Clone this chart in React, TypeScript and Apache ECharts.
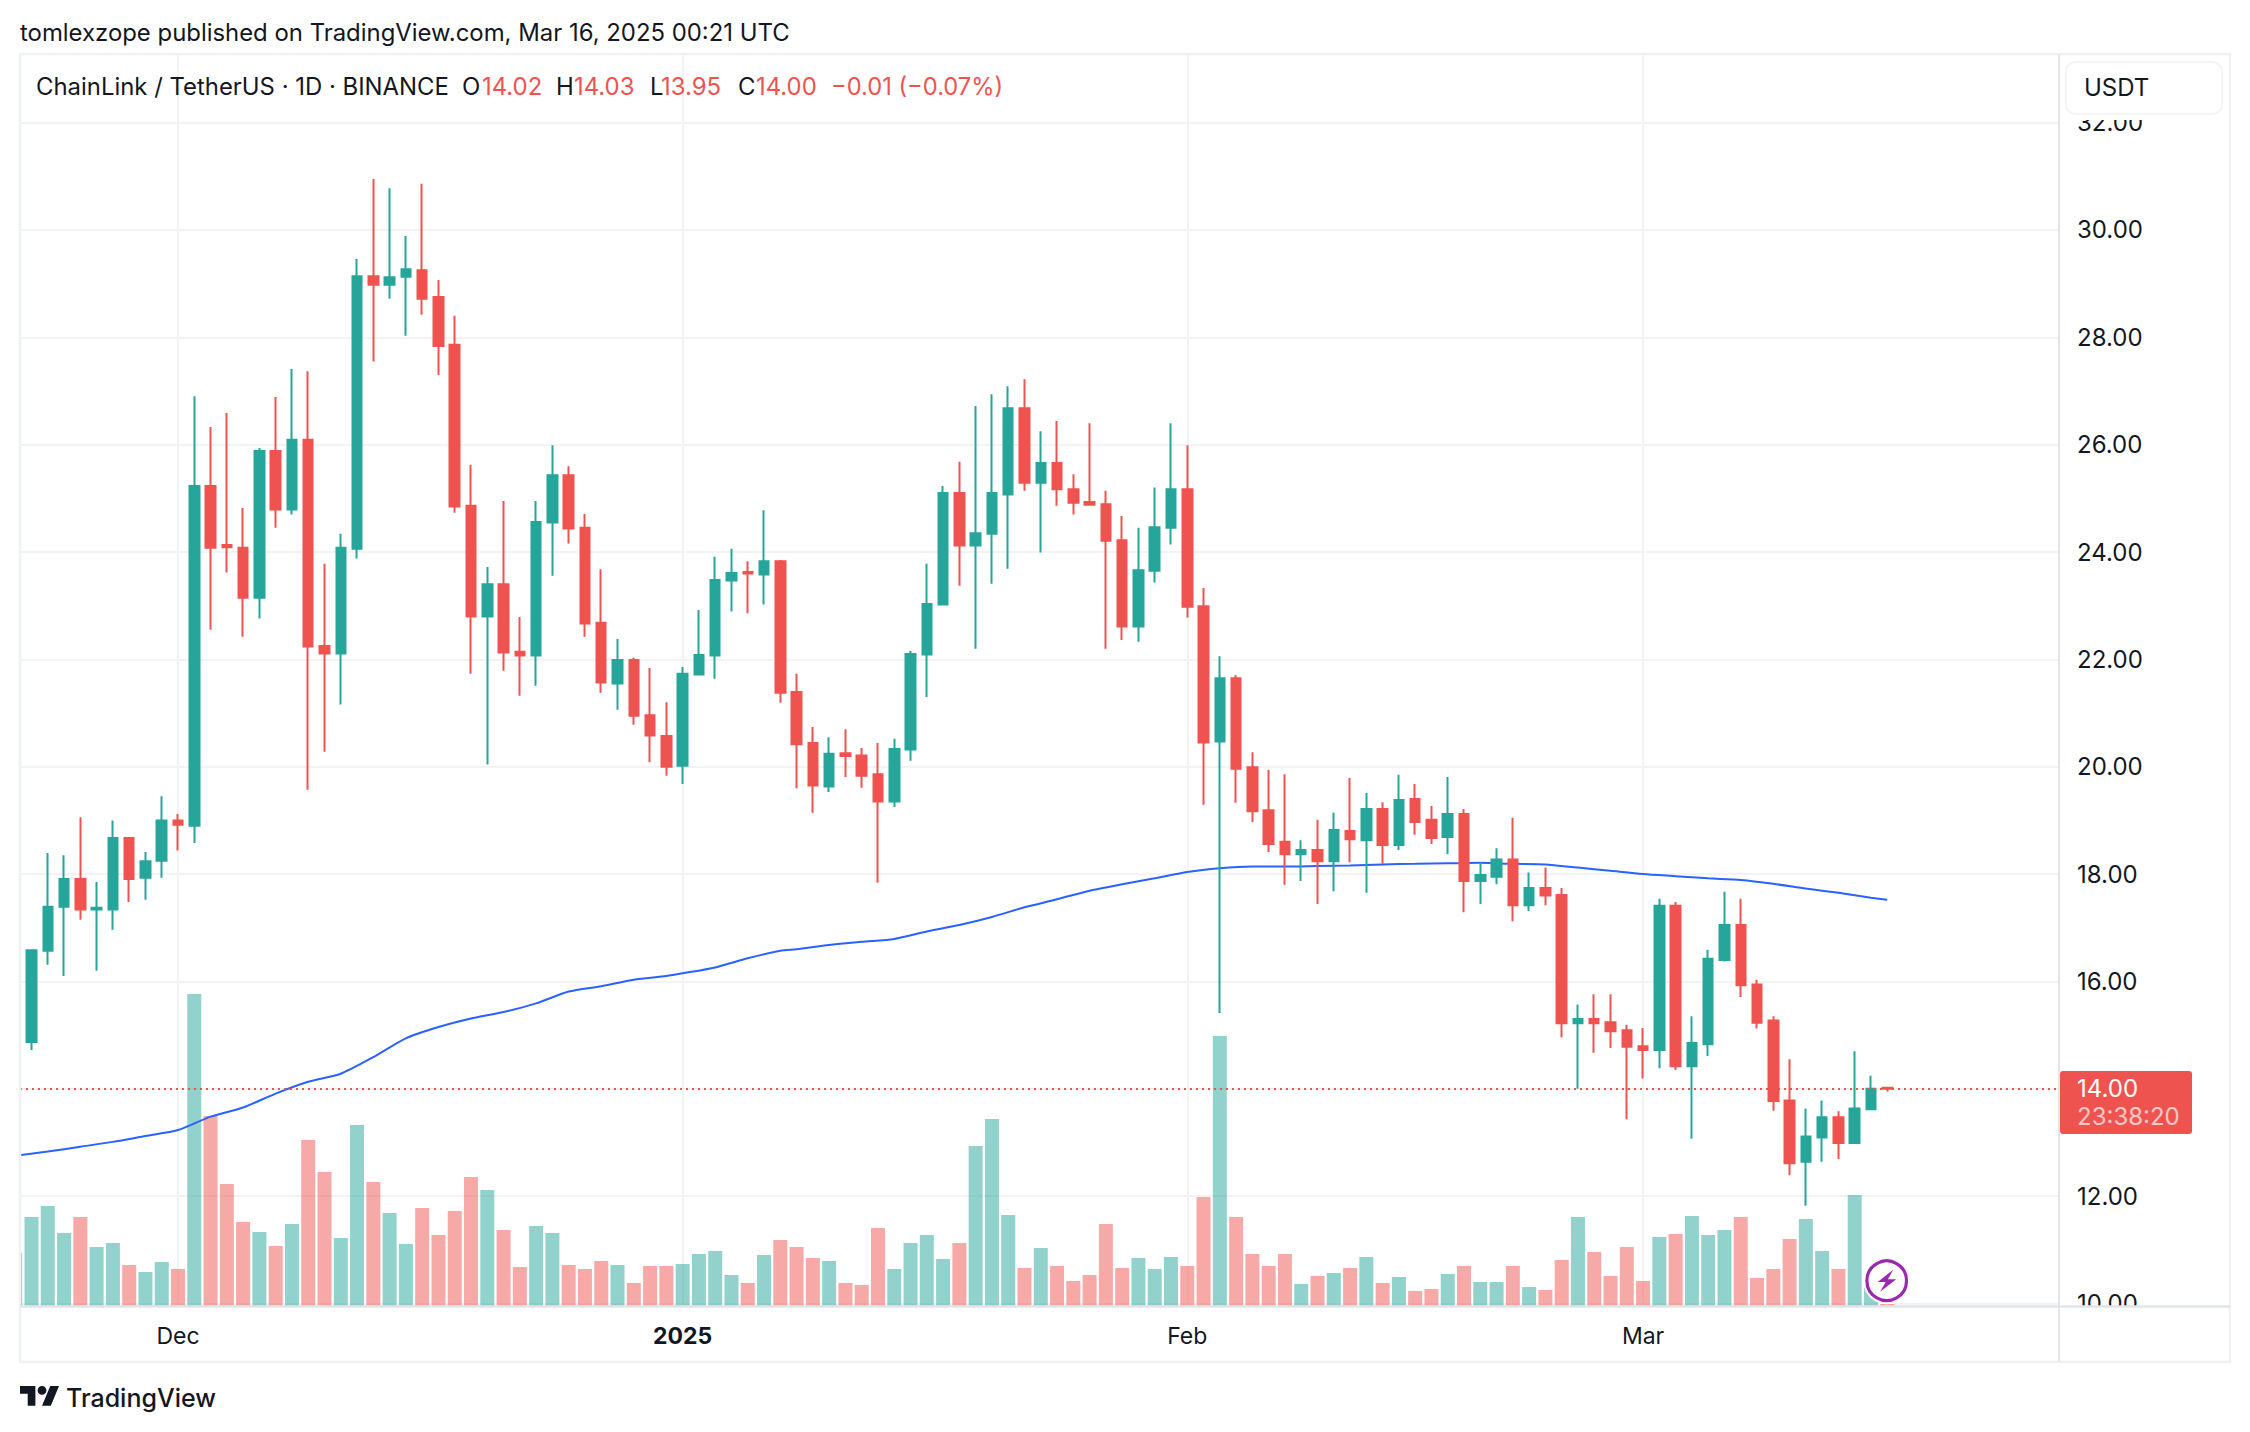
import React, { useEffect, useRef } from "react";
import * as echarts from "echarts";

const opens = [14.22,14.87,16.57,17.39,17.91,17.34,17.34,18.67,17.93,18.25,19.00,18.90,25.23,24.13,24.08,23.15,25.88,24.79,26.09,22.25,22.11,24.06,29.14,28.98,29.13,29.25,28.75,27.86,24.86,22.80,23.40,22.14,22.07,24.55,25.43,24.45,22.68,21.55,21.99,20.96,20.57,20.02,21.72,22.07,23.47,23.63,23.58,23.83,21.39,20.44,19.63,20.25,20.21,19.86,19.35,20.32,22.09,23.02,25.10,24.12,24.34,25.07,26.68,25.29,25.66,25.17,24.93,24.89,24.22,22.61,23.65,24.45,25.17,22.99,20.47,21.65,19.99,19.19,18.60,18.37,18.45,18.24,18.80,18.63,19.21,18.54,19.40,19.01,18.69,19.12,17.87,17.95,18.27,17.42,17.74,17.61,15.22,15.30,15.24,15.09,14.79,14.72,17.41,14.42,14.83,16.40,17.05,15.94,15.27,13.78,12.64,13.09,13.47,12.99,13.62,14.02];
const closes = [14.89,16.58,17.39,17.91,17.34,17.37,18.67,17.91,18.24,19.00,18.92,25.23,24.08,24.09,23.15,25.88,24.79,26.09,22.24,22.11,24.08,29.14,28.98,29.12,29.27,28.72,27.84,24.85,22.80,23.40,22.13,22.07,24.56,25.43,24.44,22.67,21.57,21.99,20.95,20.58,20.00,21.73,22.08,23.48,23.61,23.60,23.83,21.38,20.42,19.65,20.24,20.20,19.83,19.35,20.33,22.10,23.03,25.10,24.12,24.35,25.10,26.68,25.29,25.66,25.17,24.92,24.88,24.21,22.61,23.66,24.46,25.17,22.98,20.45,21.65,19.96,19.17,18.56,18.37,18.45,18.24,18.82,18.65,19.21,18.54,19.38,18.97,18.67,19.12,17.87,17.98,18.27,17.42,17.74,17.60,15.22,15.30,15.22,15.07,14.78,14.72,17.41,14.42,14.85,16.42,17.05,15.93,15.23,13.77,12.61,13.11,13.47,12.99,13.63,14.00,14.00];
const lows = [14.10,14.72,16.31,16.10,17.15,16.20,16.96,17.48,17.52,17.93,18.44,18.58,22.55,23.62,22.42,22.76,24.45,24.70,19.57,20.28,21.16,23.88,27.55,28.72,28.03,28.42,27.30,24.73,21.73,20.04,21.79,21.32,21.51,23.56,24.16,22.42,21.38,21.06,20.78,20.09,19.83,19.68,21.72,21.64,22.89,22.86,23.02,21.19,19.60,19.14,19.53,19.81,19.61,17.84,19.25,20.11,21.30,23.02,23.37,22.20,23.41,23.69,25.14,23.99,24.86,24.70,24.86,22.20,22.36,22.33,23.43,24.14,22.78,19.29,15.41,19.33,18.97,18.41,17.80,17.87,17.44,17.68,18.22,17.65,18.19,18.45,18.73,18.56,18.37,17.29,17.44,17.81,17.12,17.31,17.42,14.96,14.00,14.67,14.76,13.43,14.19,14.38,14.35,13.07,14.61,16.37,15.71,15.12,13.59,12.39,11.82,12.64,12.69,12.97,13.62,13.95];
const highs = [15.00,16.60,18.39,18.35,19.06,17.85,19.00,18.69,18.41,19.45,19.12,26.90,26.33,26.59,24.82,25.94,26.89,27.41,27.37,23.78,24.34,29.46,30.95,30.78,29.89,30.86,29.07,28.40,25.62,23.72,24.95,22.79,24.95,25.99,25.60,24.71,23.68,22.38,22.03,21.84,21.20,21.86,22.92,23.91,24.06,23.83,24.78,23.85,21.73,20.74,20.55,20.70,20.35,20.44,20.52,22.16,23.78,25.23,25.68,26.72,26.94,27.09,27.22,26.25,26.44,25.45,26.40,25.14,24.67,24.45,25.20,26.40,25.99,23.33,22.06,21.71,20.27,19.94,19.86,18.63,19.01,19.14,19.79,19.51,19.34,19.85,19.68,19.27,19.81,19.21,18.22,18.48,19.05,18.03,18.12,17.74,15.57,15.76,15.76,15.19,15.13,17.54,17.48,15.35,16.59,17.67,17.54,16.03,15.35,14.55,13.63,13.78,13.58,14.70,14.24,14.03];
const volumes = [53,89,100,73,89,59,63,41,34,44,37,312,190,122,84,74,60,82,166,134,68,181,124,93,62,98,71,95,129,116,76,39,80,73,41,37,45,41,23,40,40,42,52,55,31,23,51,66,59,48,45,23,21,78,37,63,71,47,63,160,187,91,38,58,40,25,31,82,38,48,37,49,40,109,270,89,52,40,52,22,30,33,38,49,23,29,15,17,32,40,24,24,40,19,16,46,89,54,30,59,25,69,72,90,71,76,89,28,37,67,87,55,37,111,30,2];
const maDays = [0,2,4,6,8,10,12,14,16,18,20,22,24,26,28,30,32,34,36,38,40,41,43,45,47,48,50,52,54,56,58,60,62,64,66,68,70,72,74,76,78,80,82,84,86,88,90,92,94,96,98,100,102,104,106,108,110,112,114,115];
const maValues = [12.75,12.83,12.92,13.01,13.12,13.23,13.48,13.65,13.91,14.13,14.28,14.59,14.94,15.15,15.31,15.43,15.59,15.81,15.91,16.03,16.10,16.15,16.26,16.43,16.57,16.60,16.68,16.74,16.79,16.93,17.05,17.20,17.38,17.53,17.69,17.81,17.92,18.04,18.11,18.14,18.14,18.15,18.16,18.18,18.19,18.20,18.21,18.19,18.18,18.12,18.06,18.00,17.96,17.92,17.89,17.82,17.73,17.65,17.56,17.52];
const priceTicks = [10,12,14,16,18,20,22,24,26,28,30,32];
const timeTicks = [10,41,72,100];
const timeLabels = ["Dec","2025","Feb","Mar"];
const lastPrice = 14.0;

const UP = "#26a69a";
const DOWN = "#ef5350";
const FONT = "Inter, 'Noto Sans', sans-serif";
const INK = "#131722";
const FRAME = "#f0f1f3";
const GRID = "#f3f3f4";
const SEP = "#e3e4e8";

echarts.graphic.registerShape(
  "tvLogo",
  echarts.graphic.extendPath("M14 18H7V7H0V0H14ZM28 18H20L27.5 0H35.5ZM24 4A4 4 0 1 1 16 4A4 4 0 1 1 24 4Z", {}) as any
);

const label = (text: string, x: number, y: number, fontSize: number, fill: string, extra: any = {}) => ({
  type: "text",
  x,
  y,
  z: 120,
  silent: true,
  style: { text, fontSize, fontFamily: FONT, fill, verticalAlign: "middle", align: "left", ...extra },
});

export default function App() {
  const ref = useRef<HTMLDivElement>(null);
  useEffect(() => {
    document.body.style.margin = "0";
    document.body.style.background = "#fff";
    const chart = echarts.init(ref.current!, undefined, { renderer: "svg" });
    const cx = 1886.7;
    const cy = 1280.7;
    chart.setOption({
      animation: false,
      backgroundColor: "#ffffff",
      grid: { left: 20, right: 191, top: 54, bottom: 126, containLabel: false },
      xAxis: {
        type: "value",
        min: 0.294,
        max: 125.55,
        axisLine: { show: false },
        axisTick: { show: false, customValues: timeTicks },
        splitLine: { show: true, lineStyle: { color: GRID, width: 2 } },
        axisLabel: {
          customValues: timeTicks,
          margin: 18,
          fontFamily: FONT,
          fontSize: 23,
          color: INK,
          formatter: (v: number) => {
            const t = timeLabels[timeTicks.indexOf(v)] ?? "";
            return t === "2025" ? `{b|${t}}` : t;
          },
          rich: { b: { fontFamily: FONT, fontSize: 23, fontWeight: 700, color: INK } },
        },
      },
      yAxis: [
        {
          type: "value",
          position: "right",
          min: 9.952,
          max: 33.279,
          axisLine: { show: false },
          axisTick: { show: false, customValues: priceTicks },
          splitLine: { show: true, lineStyle: { color: GRID, width: 2 } },
          axisLabel: {
            customValues: priceTicks,
            margin: 18,
            fontFamily: FONT,
            fontSize: 24,
            color: INK,
            formatter: (v: number) => v.toFixed(2),
          },
        },
        { type: "value", min: 0, max: 1252, show: false, splitLine: { show: false } },
      ],
      series: [
        {
          type: "bar",
          name: "Volume",
          yAxisIndex: 1,
          barWidth: 14,
          z: 2,
          data: volumes.map((v, i) => ({
            value: [i, v],
            itemStyle: { color: closes[i] >= opens[i] ? "rgba(38,166,154,0.5)" : "rgba(239,83,80,0.5)" },
          })),
        },
        {
          type: "line",
          name: "MA",
          z: 3,
          symbol: "none",
          smooth: 0.25,
          lineStyle: { color: "#2962ff", width: 2 },
          data: maDays.map((d, i) => [d, maValues[i]]),
        },
        {
          type: "candlestick",
          name: "LINKUSDT",
          z: 4,
          barWidth: 10,
          itemStyle: { color: UP, color0: DOWN, borderColor: UP, borderColor0: DOWN, borderWidth: 2 },
          data: opens.map((o, i) => [i, o, closes[i], lows[i], highs[i]]),
          markLine: {
            silent: true,
            symbol: "none",
            label: { show: false },
            lineStyle: { color: DOWN, type: [2, 4], width: 2 },
            data: [{ yAxis: lastPrice }],
          },
        },
      ],
      graphic: [
        { type: "rect", z: 100, silent: true, shape: { x: 0, y: 54, width: 19, height: 1254 }, style: { fill: "#fff" } },
        { type: "rect", z: 100, silent: true, shape: { x: 2061, y: 55, width: 168, height: 65 }, style: { fill: "#fff" } },
        { type: "rect", z: 100, silent: true, shape: { x: 2061, y: 1307, width: 168, height: 54 }, style: { fill: "#fff" } },
        { type: "rect", z: 101, silent: true, shape: { x: 20, y: 54, width: 2210, height: 1308 }, style: { fill: "none", stroke: FRAME, lineWidth: 2.5 } },
        { type: "line", z: 101, silent: true, shape: { x1: 2059, y1: 54, x2: 2059, y2: 1362 }, style: { stroke: SEP, lineWidth: 2 } },
        { type: "line", z: 101, silent: true, shape: { x1: 20, y1: 1306.5, x2: 2230, y2: 1306.5 }, style: { stroke: SEP, lineWidth: 2.5 } },
        { type: "rect", z: 110, silent: true, shape: { x: 2066, y: 62, width: 156, height: 52, r: 10 }, style: { fill: "#fff", stroke: FRAME, lineWidth: 1.5 } },
        label("USDT", 2084, 87, 24, INK),
        label("tomlexzope published on TradingView.com, Mar 16, 2025 00:21 UTC", 20, 32, 23.9, INK),
        label("ChainLink / TetherUS · 1D · BINANCE", 36, 86, 23.9, INK),
        label("O", 462, 86, 23.9, INK),
        label("14.02", 482, 86, 23.9, DOWN),
        label("H", 556, 86, 23.9, INK),
        label("14.03", 574, 86, 23.9, DOWN),
        label("L", 650, 86, 23.9, INK),
        label("13.95", 661, 86, 23.9, DOWN),
        label("C", 738, 86, 23.9, INK),
        label("14.00", 756, 86, 23.9, DOWN),
        label("−0.01 (−0.07%)", 831, 86, 23.7, DOWN),
        { type: "rect", z: 110, silent: true, shape: { x: 2060, y: 1071, width: 132, height: 63, r: 3 }, style: { fill: DOWN } },
        label("14.00", 2077, 1088, 24, "#ffffff"),
        label("23:38:20", 2077, 1116, 24, "rgba(255,255,255,0.7)"),
        { type: "circle", z: 110, silent: true, shape: { cx, cy, r: 23.5 }, style: { fill: "#fff" } },
        { type: "circle", z: 111, silent: true, shape: { cx, cy, r: 19.8 }, style: { fill: "#fff", stroke: "#9c27b0", lineWidth: 3.2 } },
        {
          type: "polygon",
          z: 112,
          silent: true,
          shape: {
            points: [
              [cx + 6.5, cy - 11],
              [cx - 9, cy + 1.2],
              [cx - 1, cy + 1.2],
              [cx - 6.5, cy + 11],
              [cx + 9.5, cy - 1.5],
              [cx + 1.2, cy - 1.5],
            ],
          },
          style: { fill: "#9c27b0" },
        },
        { type: "tvLogo", z: 120, silent: true, x: 20, y: 1386, scaleX: 1.1, scaleY: 1.1, style: { fill: "#131722" } },
        label("TradingView", 66, 1398, 25, INK, { fontWeight: 500 }),
      ],
    });
    return () => chart.dispose();
  }, []);
  return <div ref={ref} style={{ position: "absolute", left: 0, top: 0, width: 2250, height: 1432 }} />;
}
